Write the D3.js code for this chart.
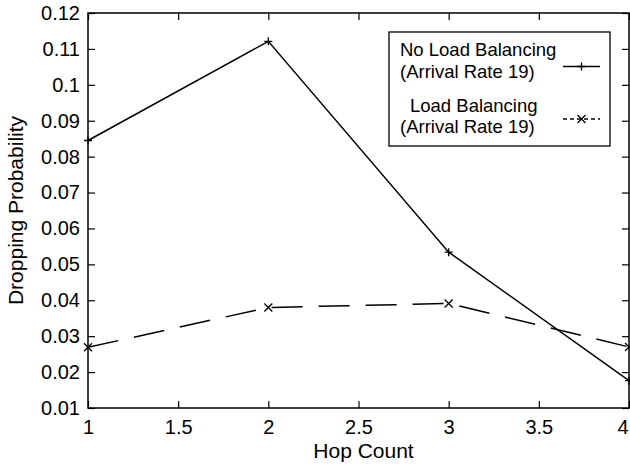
<!DOCTYPE html>
<html>
<head>
<meta charset="utf-8">
<script src="https://cdn.jsdelivr.net/npm/d3@7"></script>
<style>
  body { margin: 0; background: #fff; }
  svg { display: block; font-family: "Liberation Sans", Arial, sans-serif; }
</style>
</head>
<body>
<figure id="chart" style="margin:0"></figure>
<script>
// data
const hops = [1, 2, 3, 4];
const noBalancing = [0.0845, 0.1121, 0.0534, 0.0176];
const balancing = [0.0269, 0.0380, 0.0391, 0.0270];
const xTicks = [1, 1.5, 2, 2.5, 3, 3.5, 4];
const yTicks = [0.01, 0.02, 0.03, 0.04, 0.05, 0.06, 0.07, 0.08, 0.09, 0.1, 0.11, 0.12];
const seriesNames = ["No Load Balancing", "Load Balancing"];
const seriesSub = "(Arrival Rate 19)";

const width = 630, height = 464;
const margin = { top: 13, right: 1, bottom: 56, left: 88 };
const tickFont = 20;
const titleFont = 21;
const legendFont = 18.5;

const svg = d3.select("#chart").append("svg")
  .attr("width", width)
  .attr("height", height);

const x = d3.scaleLinear().domain([1, 4]).range([margin.left, width - margin.right]);
const y = d3.scaleLinear().domain([0.01, 0.12]).range([height - margin.bottom, margin.top]);

const fmt = (d) => String(+d.toFixed(2));

// axes, ticks pointing inwards, mirrored on top/right
const tickLen = 7;
const xAxis = svg.append("g")
  .attr("transform", `translate(0,${y.range()[0]})`)
  .call(d3.axisBottom(x).tickValues(xTicks).tickSize(-tickLen).tickPadding(12).tickFormat(fmt))
  .call((g) => g.select(".domain").remove());
svg.append("g")
  .attr("transform", `translate(0,${y.range()[1]})`)
  .call(d3.axisTop(x).tickValues(xTicks).tickSize(-tickLen).tickFormat(""))
  .call((g) => g.select(".domain").remove());
svg.append("g")
  .attr("transform", `translate(${x.range()[0]},0)`)
  .call(d3.axisLeft(y).tickValues(yTicks).tickSize(-tickLen).tickPadding(8).tickFormat(fmt))
  .call((g) => g.select(".domain").remove());
svg.append("g")
  .attr("transform", `translate(${x.range()[1]},0)`)
  .call(d3.axisRight(y).tickValues(yTicks).tickSize(-tickLen).tickFormat(""))
  .call((g) => g.select(".domain").remove());

svg.selectAll(".tick line").attr("stroke", "#000").attr("stroke-width", 1.2);
svg.selectAll(".tick text")
  .attr("fill", "#000")
  .style("font-size", tickFont + "px")
  .style("font-family", "Liberation Sans, Arial, sans-serif");

// keep the last x label inside the picture
xAxis.selectAll(".tick text").filter((d) => d === 4)
  .attr("text-anchor", "end")
  .attr("dx", -1);

// plot frame
svg.append("rect")
  .attr("x", x.range()[0])
  .attr("y", y.range()[1])
  .attr("width", x.range()[1] - x.range()[0])
  .attr("height", y.range()[0] - y.range()[1])
  .attr("fill", "none")
  .attr("stroke", "#000")
  .attr("stroke-width", 1.5);

// axis titles
svg.append("text")
  .attr("x", (x.range()[0] + x.range()[1]) / 2 + 5)
  .attr("y", 458)
  .attr("text-anchor", "middle")
  .style("font-size", titleFont + "px")
  .text("Hop Count");
svg.append("text")
  .attr("transform", `translate(23,${(y.range()[0] + y.range()[1]) / 2}) rotate(-90)`)
  .attr("text-anchor", "middle")
  .style("font-size", titleFont + "px")
  .text("Dropping Probability");

// series
const line = d3.line().x((d, i) => x(hops[i])).y((d) => y(d));

svg.append("path")
  .attr("d", line(noBalancing))
  .attr("fill", "none")
  .attr("stroke", "#000")
  .attr("stroke-width", 1.5);

svg.append("path")
  .attr("d", line(balancing))
  .attr("fill", "none")
  .attr("stroke", "#000")
  .attr("stroke-width", 1.5)
  .attr("stroke-dasharray", "31,16");

const plusMarker = (g, cx, cy, s) => {
  g.append("path")
    .attr("d", `M${cx - s},${cy}H${cx + s}M${cx},${cy - s}V${cy + s}`)
    .attr("stroke", "#000").attr("stroke-width", 1.3);
};
const crossMarker = (g, cx, cy, s) => {
  g.append("path")
    .attr("d", `M${cx - s},${cy - s}L${cx + s},${cy + s}M${cx - s},${cy + s}L${cx + s},${cy - s}`)
    .attr("stroke", "#000").attr("stroke-width", 1.3);
};

const markers = svg.append("g");
noBalancing.forEach((d, i) => plusMarker(markers, x(hops[i]), y(d), 4));
balancing.forEach((d, i) => crossMarker(markers, x(hops[i]), y(d), 4));

// legend
const legend = svg.append("g");
legend.append("rect")
  .attr("x", 389).attr("y", 32)
  .attr("width", 221).attr("height", 114)
  .attr("fill", "#fff").attr("stroke", "#000").attr("stroke-width", 1.3);

const legendRows = [
  { name: seriesNames[0], nx: 400, ny: 56, sx: 400, sy: 78, ly: 66.5, dash: null, marker: plusMarker },
  { name: seriesNames[1], nx: 410, ny: 112, sx: 400, sy: 133, ly: 119, dash: "4,3", marker: crossMarker }
];
legendRows.forEach((r) => {
  legend.append("text").attr("x", r.nx).attr("y", r.ny).style("font-size", legendFont + "px").text(r.name);
  legend.append("text").attr("x", r.sx).attr("y", r.sy).style("font-size", legendFont + "px").text(seriesSub);
  legend.append("line")
    .attr("x1", 563).attr("x2", 600).attr("y1", r.ly).attr("y2", r.ly)
    .attr("stroke", "#000").attr("stroke-width", 1.3)
    .attr("stroke-dasharray", r.dash);
  r.marker(legend, 581.5, r.ly, 4);
});
</script>
</body>
</html>
